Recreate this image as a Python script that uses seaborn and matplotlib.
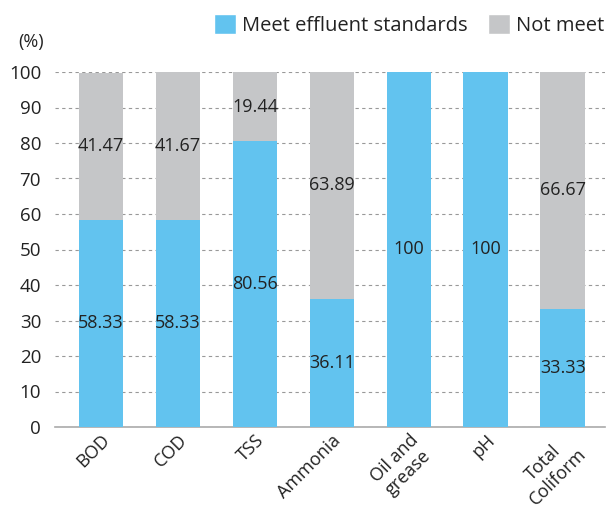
import matplotlib
matplotlib.use("Agg")
import matplotlib.pyplot as plt
import seaborn as sns
import pandas as pd
from matplotlib.patches import Patch

categories = ["BOD", "COD", "TSS", "Ammonia", "Oil and\ngrease", "pH", "Total\nColiform"]
meet = [58.33, 58.33, 80.56, 36.11, 100, 100, 33.33]
not_meet = [41.47, 41.67, 19.44, 63.89, 0, 0, 66.67]
meet_labels = ["58.33", "58.33", "80.56", "36.11", "100", "100", "33.33"]
not_meet_labels = ["41.47", "41.67", "19.44", "63.89", "", "", "66.67"]
yticks = [0, 10, 20, 30, 40, 50, 60, 70, 80, 90, 100]

BLUE = "#62C3EF"
GREY = "#C5C6C8"
TEXT = "#222222"

sns.set_theme(style="white")
plt.rcParams["font.family"] = ["Open Sans", "DejaVu Sans"]

df = pd.DataFrame({"cat": categories, "meet": meet, "not_meet": not_meet})
df["total"] = df["meet"] + df["not_meet"]

fig = plt.figure(figsize=(6.06, 5.13), dpi=100)
ax = fig.add_axes([55 / 606, 1 - 427 / 513, 550 / 606, 355 / 513])

sns.barplot(data=df, x="cat", y="total", color=GREY, width=0.58,
            saturation=1, linewidth=0, ax=ax, zorder=2)
sns.barplot(data=df, x="cat", y="meet", color=BLUE, width=0.58,
            saturation=1, linewidth=0, ax=ax, zorder=3)

for i, (m, n, ml, nl) in enumerate(zip(meet, not_meet, meet_labels, not_meet_labels)):
    ax.text(i, m / 2, ml, ha="center", va="center", fontsize=13, color=TEXT, zorder=5)
    if nl:
        ax.text(i, m + n / 2, nl, ha="center", va="center", fontsize=13, color=TEXT, zorder=5)

ax.set_ylim(0, 100)
ax.set_xlim(-0.6, 6.55)
ax.set_yticks(yticks)
ax.set_yticklabels([str(t) for t in yticks], fontsize=13.5, color=TEXT)
ax.set_xlabel("")
ax.set_ylabel("")
ax.yaxis.grid(True, linestyle=(0, (3, 3)), color="#999999", linewidth=0.8, zorder=0)
ax.set_axisbelow(True)
for s in ["top", "right", "left"]:
    ax.spines[s].set_visible(False)
ax.spines["bottom"].set_color("#AAAAAA")
ax.spines["bottom"].set_linewidth(1.2)
ax.tick_params(axis="y", length=0, pad=10)
ax.tick_params(axis="x", length=0, pad=3)
ax.set_xticks(range(len(categories)))
ax.set_xticklabels(categories, rotation=45, ha="right", rotation_mode="anchor",
                   fontsize=13, color=TEXT, multialignment="center", linespacing=1.15)

fig.text(31 / 606, 1 - 42 / 513, "(%)", ha="center", va="center", fontsize=13, color=TEXT)

handles = [Patch(facecolor=BLUE, label="Meet effluent standards"),
           Patch(facecolor=GREY, label="Not meet")]
fig.legend(handles=handles, loc="center right", bbox_to_anchor=(1.0, 1 - 25 / 513),
           ncol=2, frameon=False, fontsize=14.5, handlelength=1.1, handleheight=1.1,
           handletextpad=0.3, columnspacing=1.0, borderaxespad=0, borderpad=0.1,
           labelcolor=TEXT)

fig.savefig("out.png", dpi=100)
